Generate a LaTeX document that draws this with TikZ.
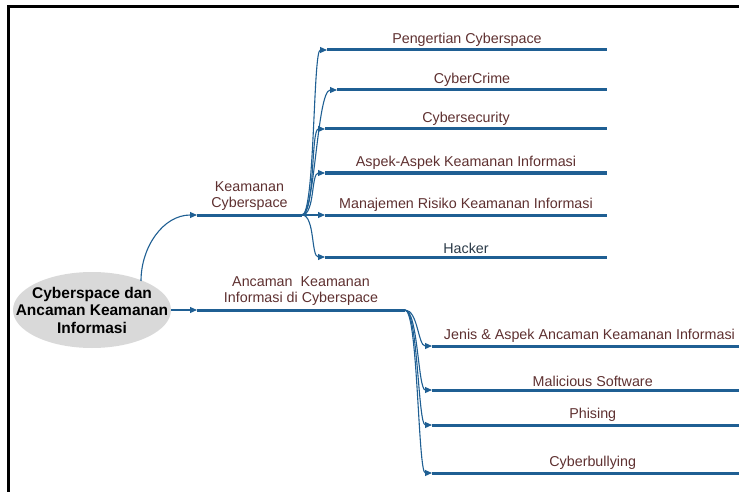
\documentclass[tikz,border=0pt]{standalone}
\usepackage{fontspec}
\setmainfont{Liberation Sans}
\usepackage{xcolor}
\usepackage{tikz}
\usetikzlibrary{arrows.meta,shapes.geometric,positioning}
\definecolor{branchblue}{HTML}{1F5F93}
\definecolor{labelbrown}{HTML}{5E3030}
\definecolor{labelslate}{HTML}{2B3A48}
\definecolor{rootgray}{HTML}{D9D9D9}

\begin{document}
\begin{tikzpicture}[
			x = 1pt, y = -1pt,
			bar/.style = {branchblue, line width=3pt},
			twig/.style = {branchblue, line width=1.1pt, -{Triangle[length=7pt,width=6pt]}},
			fan/.style = {out=0, in=180, out distance=13pt, in distance=14pt},
			lbl/.style = {text=labelbrown, font=\fontsize{14.3}{16.5}\selectfont, above, inner sep=2pt, align=center},
			rootnode/.style = {minimum width=158pt, minimum height=76pt, inner sep=0pt, align=center, font=\fontsize{15.5}{17.5}\selectfont\bfseries}
			]

			\useasboundingbox (0,0) rectangle (739,492);
			\draw[line width=3pt] (8,492) -- (8,7) -- (739,7);

			% root
			\fill[rootgray] (92,310) ellipse (79pt and 38pt);
			\node[rootnode] (root) at (92,310) {Cyberspace dan\\Ancaman Keamanan\\Informasi};
			\coordinate (rtop) at (141,281);

			% first branch
			\coordinate (kA) at (197,215);
			\coordinate (kB) at (302,215);
			\draw[bar] (kA) -- (kB) node[lbl, midway, yshift=1pt] {Keamanan\\Cyberspace};
			\draw[twig] (rtop) to[out=90,in=180] (kA);

			\coordinate (pA) at (327,50);  \coordinate (pB) at (607,50);
			\coordinate (cA) at (337,90);  \coordinate (cB) at (607,90);
			\coordinate (sA) at (325,129); \coordinate (sB) at (607,129);
			\coordinate (aA) at (325,173); \coordinate (aB) at (607,173);
			\coordinate (mA) at (325,215); \coordinate (mB) at (607,215);
			\coordinate (hA) at (325,257); \coordinate (hB) at (607,257);

			\draw[bar] (pA) -- (pB) node[lbl, midway] {Pengertian Cyberspace};
			\draw[bar] (cA) -- (cB) node[lbl, midway] {CyberCrime};
			\draw[bar] (sA) -- (sB) node[lbl, midway] {Cybersecurity};
			\draw[bar] (aA) -- (aB) node[lbl, midway] {Aspek-Aspek Keamanan Informasi};
			\draw[bar] (mA) -- (mB) node[lbl, midway] {Manajemen Risiko Keamanan Informasi};
			\draw[bar] (hA) -- (hB) node[lbl, midway, text=labelslate] {Hacker};

			\draw[twig] (kB) to[fan] (pA);
			\draw[twig] (kB) to[fan, in distance=20pt] (cA);
			\draw[twig] (kB) to[fan] (sA);
			\draw[twig] (kB) to[fan] (aA);
			\draw[twig] (kB) -- (mA);
			\draw[twig] (kB) to[fan] (hA);

			% second branch
			\coordinate (tA) at (197,310);
			\coordinate (tB) at (405,310);
			\draw[bar] (tA) -- (tB) node[lbl, midway, yshift=1pt] {Ancaman\ \ Keamanan\\Informasi di Cyberspace};
			\draw[twig] (root.east) -- (tA);

			\coordinate (jA) at (432,346); \coordinate (jB) at (760,346);
			\coordinate (wA) at (432,390); \coordinate (wB) at (760,390);
			\coordinate (fA) at (432,425); \coordinate (fB) at (760,425);
			\coordinate (yA) at (432,473); \coordinate (yB) at (760,473);

			\draw[bar] (jA) -- (jB) node[lbl, pos=0.48] {Jenis \& Aspek Ancaman Keamanan Informasi};
			\draw[bar] (wA) -- (wB) node[lbl, pos=0.49] {Malicious Software};
			\draw[bar] (fA) -- (fB) node[lbl, pos=0.49] {Phising};
			\draw[bar] (yA) -- (yB) node[lbl, pos=0.49] {Cyberbullying};

			\draw[twig] (tB) to[fan] (jA);
			\draw[twig] (tB) to[fan] (wA);
			\draw[twig] (tB) to[fan] (fA);
			\draw[twig] (tB) to[fan] (yA);

		\end{tikzpicture}
\end{document}
